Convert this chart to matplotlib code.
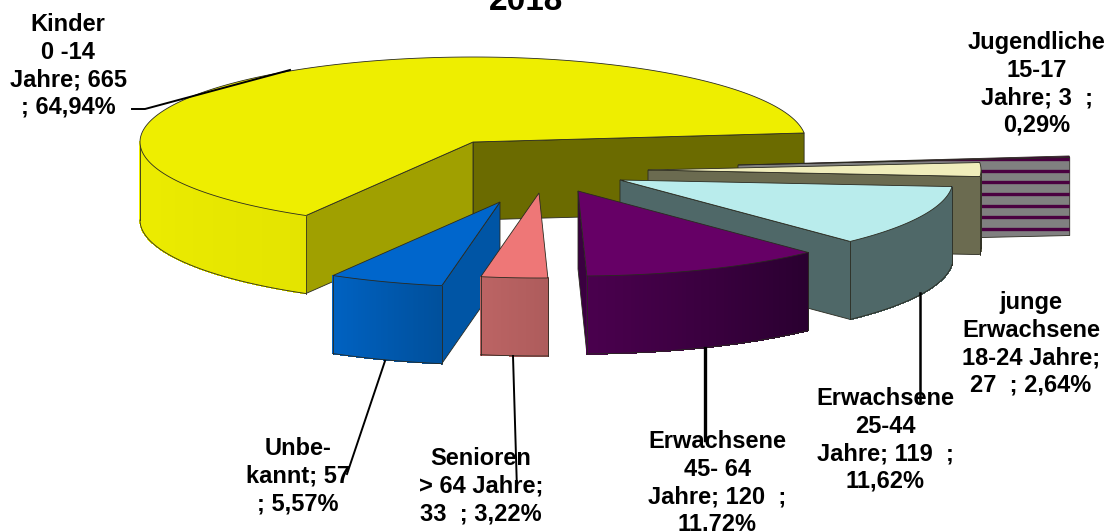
import numpy as np
import matplotlib.pyplot as plt
from matplotlib.colors import to_rgb
from matplotlib.patches import Polygon

# Chart data
values = [665, 57, 33, 120, 119, 27, 3]
label_templates = [
    "Kinder\n0 -14\nJahre; {v}\n; {p}%",
    "Unbe-\nkannt; {v}\n; {p}%",
    "Senioren\n> 64 Jahre;\n{v}  ; {p}%",
    "Erwachsene\n45- 64\nJahre; {v}  ;\n{p}%",
    "Erwachsene\n25-44\nJahre; {v}  ;\n{p}%",
    "junge\nErwachsene\n18-24 Jahre;\n{v}  ; {p}%",
    "Jugendliche\n15-17\nJahre; {v}  ;\n{p}%",
]
title = "2018"

# Pie layout in pixels
start_angle = 6.1
center_x, center_y = 473, 142
radius_x, radius_y = 333, 85
depth = 78
explode_x = [0, 27, 66, 105, 147, 175, 265]
explode_y = [0, 60, 51, 49, 38, 28, 23]

# Slice colours
top_colors = ["#EEEE00", "#0066CC", "#EE7777", "#660066", "#B9ECEC", "#F0EDBB", "#4A0040"]
start_wall_colors = ["#6B6B00", "#0055A5", "#B86060", "#3A0040", "#4F6868", "#6B6B50", "#808080"]
end_wall_colors = ["#A0A000", "#0055A5", "#B86060", "#3A0040", "#4F6868", "#6B6B50", "#808080"]
outer_left_colors = ["#EEEE00", "#0062C2", "#BC6464", "#4A004E", "#4F6868", "#6B6B50", "#808080"]
outer_right_colors = ["#E4E400", "#00509C", "#AE5C5C", "#2A0030", "#4F6868", "#6B6B50", "#808080"]
edge_color = "#2A2A20"

# Label centres and leader lines
label_x = [68, 298, 481, 717, 885, 1031, 1037]
label_y = [66, 476, 486, 483, 440, 344, 84]
leader_x = [[132, 145, 290], [385, 347], [513, 517], [705, 705], [920, 920]]
leader_y = [[109, 109, 70], [361, 474], [356, 490], [348, 440], [293, 402]]
leader_w = [1.4, 1.4, 1.4, 2.4, 1.8]


def ellipse_point(cx, cy, angle):
    rad = np.radians(angle)
    return cx + radius_x * np.cos(rad), cy - radius_y * np.sin(rad)


def draw_slice(ax, i, a, b, z):
    cx = center_x + explode_x[i]
    cy = center_y + explode_y[i]

    # Radial walls, only the ones facing the viewer
    if np.sin(np.radians(a - 90)) < 0:
        x, y = ellipse_point(cx, cy, a)
        wall = Polygon([(cx, cy), (x, y), (x, y + depth), (cx, cy + depth)],
                       facecolor=start_wall_colors[i], edgecolor=edge_color, lw=0.6, zorder=z)
        ax.add_patch(wall)
        # The small slice has a striped wall
        if i == len(values) - 1:
            stripes = np.arange(cy - 6, cy + depth, 11.7)
            lines = ax.hlines(stripes, cx, x, color=top_colors[i], lw=2.4, zorder=z)
            lines.set_clip_path(wall)
    if np.sin(np.radians(b + 90)) < 0:
        x, y = ellipse_point(cx, cy, b)
        ax.add_patch(Polygon([(cx, cy), (x, y), (x, y + depth), (cx, cy + depth)],
                             facecolor=end_wall_colors[i], edgecolor=edge_color, lw=0.6, zorder=z))

    # Outer wall, split up for the colour gradient
    lo, hi = max(a, 180), min(b, 360)
    if lo < hi:
        angles = np.linspace(lo, hi, 61)
        xs, ys = ellipse_point(cx, cy, angles)
        left = np.array(to_rgb(outer_left_colors[i]))
        right = np.array(to_rgb(outer_right_colors[i]))
        for k in range(60):
            color = left + (right - left) * k / 59
            ax.fill([xs[k], xs[k + 1], xs[k + 1], xs[k]],
                    [ys[k], ys[k + 1], ys[k + 1] + depth, ys[k] + depth],
                    color=color, lw=0.5, antialiased=False, zorder=z)
        ax.plot(xs, ys + depth, color=edge_color, lw=0.6, zorder=z)
        ax.plot([xs[0], xs[0]], [ys[0], ys[0] + depth], color=edge_color, lw=0.6, zorder=z)
        ax.plot([xs[-1], xs[-1]], [ys[-1], ys[-1] + depth], color=edge_color, lw=0.6, zorder=z)

    # Top face
    angles = np.linspace(a, b, 200)
    xs, ys = ellipse_point(cx, cy, angles)
    ax.add_patch(Polygon(np.column_stack([np.r_[cx, xs], np.r_[cy, ys]]),
                         facecolor=top_colors[i], edgecolor=edge_color, lw=0.6, zorder=z))


fig = plt.figure(figsize=(11.15, 5.31), dpi=100)
ax = fig.add_axes([0, 0, 1, 1])
ax.set_xlim(0, 1115)
ax.set_ylim(531, 0)
ax.axis("off")

total = sum(values)
bounds = start_angle + np.r_[0, np.cumsum(values)] / total * 360

# Back to front
for z, i in enumerate([0, 6, 5, 4, 3, 1, 2]):
    draw_slice(ax, i, bounds[i], bounds[i + 1], z + 1)

for xs, ys, w in zip(leader_x, leader_y, leader_w):
    ax.plot(xs, ys, color="black", lw=w, zorder=10)

for i, template in enumerate(label_templates):
    percent = f"{values[i] / total * 100:.2f}".replace(".", ",")
    ax.text(label_x[i], label_y[i], template.format(v=values[i], p=percent),
            ha="center", va="center", multialignment="center", linespacing=1.25,
            fontsize=17, fontweight="bold", family="Liberation Sans", zorder=11)

ax.text(526, 17, title, ha="center", va="bottom", fontsize=24, fontweight="bold",
        family="Liberation Sans")

fig.savefig("out.png", dpi=100)
